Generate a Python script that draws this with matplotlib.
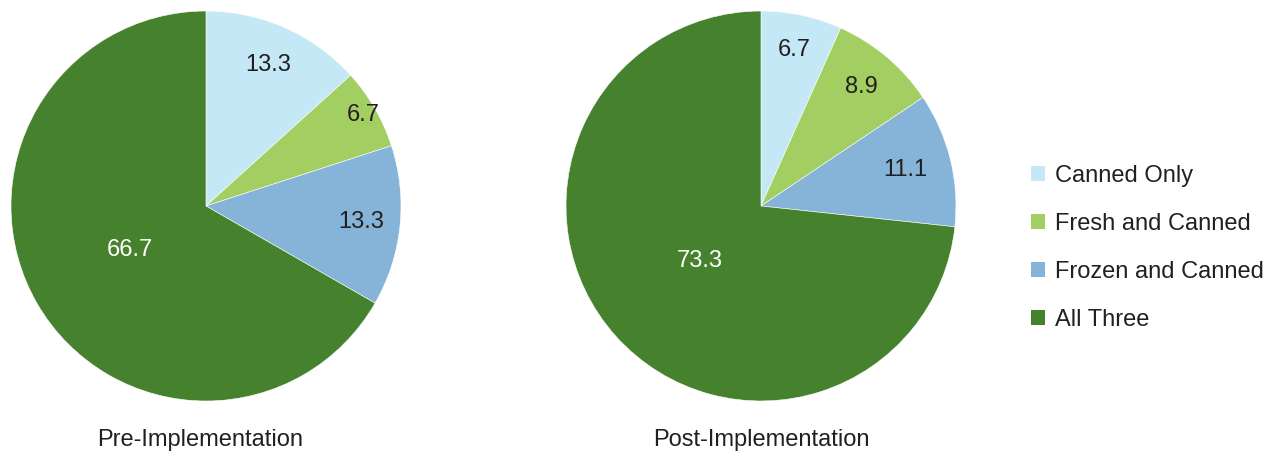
import numpy as np
import matplotlib.pyplot as plt
from matplotlib.patches import Patch

plt.rcParams['font.family'] = ['Liberation Sans', 'DejaVu Sans']

# Data
categories = ['Canned Only', 'Fresh and Canned', 'Frozen and Canned', 'All Three']
pre_values = [13.3, 6.7, 13.3, 66.7]
post_values = [6.7, 8.9, 11.1, 73.3]
titles = ['Pre-Implementation', 'Post-Implementation']

colors = ['#C5E8F7', '#A3CE62', '#85B4D8', '#46812E']
text_colors = ['#231F20', '#231F20', '#231F20', 'white']
# radial position of each value label (fraction of radius)
pre_dist = [0.79, 0.93, 0.80, 0.45]
post_dist = [0.82, 0.80, 0.76, 0.42]

W, H = 1278, 457
fig = plt.figure(figsize=(W / 100, H / 100), dpi=100)

def draw_pie(cx, cy, r, values, dists, title, title_x):
    ax = fig.add_axes([(cx - r) / W, (H - cy - r) / H, 2 * r / W, 2 * r / H])
    wedges, _ = ax.pie(values, colors=colors, startangle=90, counterclock=False,
                       radius=1, wedgeprops=dict(edgecolor='white', linewidth=0.4))
    for w, v, d, tc in zip(wedges, values, dists, text_colors):
        ang = np.deg2rad((w.theta1 + w.theta2) / 2)
        ax.text(d * np.cos(ang), d * np.sin(ang), f'{v:.1f}', ha='center', va='center',
                fontsize=17, color=tc)
    ax.set_xlim(-1, 1)
    ax.set_ylim(-1, 1)
    ax.set_aspect('equal')
    ax.axis('off')
    fig.text(title_x / W, (H - 440) / H, title, ha='center', va='center', fontsize=17,
             color='#231F20')

draw_pie(206, 206, 195, pre_values, pre_dist, titles[0], 200)
draw_pie(761, 206, 195, post_values, post_dist, titles[1], 761)

handles = [Patch(facecolor=c, edgecolor='none', label=l) for c, l in zip(colors, categories)]
fig.legend(handles=handles, loc='center left', bbox_to_anchor=(1010 / W, (H - 248) / H),
           frameon=False, fontsize=17, handlelength=0.6, handleheight=0.6,
           handletextpad=0.4, labelspacing=1.11, labelcolor='#231F20')

fig.savefig('out.png', dpi=100)
